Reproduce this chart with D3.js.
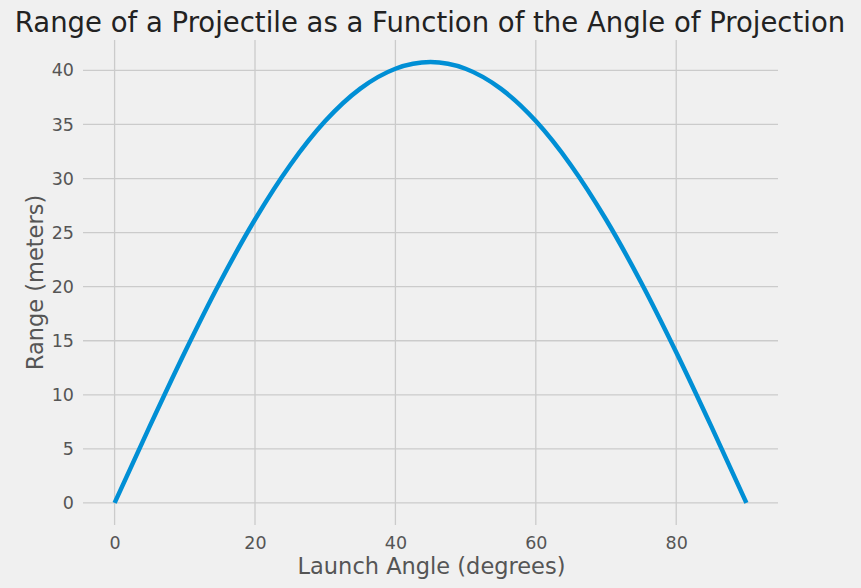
<!DOCTYPE html>
<html>
<head>
<meta charset="utf-8">
<script src="https://cdn.jsdelivr.net/npm/d3@7"></script>
<style>
  body { margin: 0; background: #f0f0f0; }
  text { font-family: "DejaVu Sans", sans-serif; }
</style>
</head>
<body>
<div id="chart"></div>
<script>
// values
const angles = [0, 5, 10, 15, 20, 25, 30, 35, 40, 45, 50, 55, 60, 65, 70, 75, 80, 85, 90];
const ranges = [0, 7.08, 13.94, 20.39, 26.21, 31.23, 35.31, 38.31, 40.15, 40.77, 40.15, 38.31, 35.31, 31.23, 26.21, 20.39, 13.94, 7.08, 0];
const xTicks = [0, 20, 40, 60, 80];
const yTicks = [0, 5, 10, 15, 20, 25, 30, 35, 40];

const width = 861, height = 588;
const margin = { top: 40, right: 83, bottom: 63, left: 83 };

const svg = d3.select('#chart')
    .append('svg')
    .attr('width', width)
    .attr('height', height)
    .style('background', '#f0f0f0');

const xScale = d3.scaleLinear()
    .domain([-4.5, 94.5])
    .range([margin.left, width - margin.right]);

const yScale = d3.scaleLinear()
    .domain([-2.04, 42.81])
    .range([height - margin.bottom, margin.top]);

// Grid
svg.append('g')
    .selectAll('line')
    .data(xTicks)
    .enter()
    .append('line')
    .attr('x1', d => xScale(d)).attr('x2', d => xScale(d))
    .attr('y1', margin.top).attr('y2', height - margin.bottom)
    .attr('stroke', '#cbcbcb').attr('stroke-width', 1.3);

svg.append('g')
    .selectAll('line')
    .data(yTicks)
    .enter()
    .append('line')
    .attr('x1', margin.left).attr('x2', width - margin.right)
    .attr('y1', d => yScale(d)).attr('y2', d => yScale(d))
    .attr('stroke', '#cbcbcb').attr('stroke-width', 1.3);

// Tick labels
const xAxis = svg.append('g')
    .attr('transform', `translate(0, ${height - margin.bottom})`)
    .call(d3.axisBottom(xScale).tickValues(xTicks).tickSize(0).tickPadding(12));
xAxis.select('.domain').remove();
xAxis.selectAll('text').style('font-size', '17.5px').attr('fill', '#555');

const yAxis = svg.append('g')
    .attr('transform', `translate(${margin.left}, 0)`)
    .call(d3.axisLeft(yScale).tickValues(yTicks).tickSize(0).tickPadding(9));
yAxis.select('.domain').remove();
yAxis.selectAll('text').style('font-size', '17.5px').attr('fill', '#555');

// Line
const line = d3.line()
    .x((d, i) => xScale(angles[i]))
    .y(d => yScale(d))
    .curve(d3.curveMonotoneX);

svg.append('path')
    .datum(ranges)
    .attr('d', line)
    .attr('fill', 'none')
    .attr('stroke', '#008fd5')
    .attr('stroke-width', 4.5);

// Titles
svg.append('text')
    .attr('x', 430)
    .attr('y', 32)
    .attr('text-anchor', 'middle')
    .style('font-size', '27.5px')
    .attr('fill', '#222')
    .text('Range of a Projectile as a Function of the Angle of Projection');

svg.append('text')
    .attr('x', (margin.left + width - margin.right) / 2 + 1)
    .attr('y', 574)
    .attr('text-anchor', 'middle')
    .style('font-size', '22.5px')
    .attr('fill', '#555')
    .text('Launch Angle (degrees)');

svg.append('text')
    .attr('transform', `translate(43, ${(margin.top + height - margin.bottom) / 2}) rotate(-90)`)
    .attr('text-anchor', 'middle')
    .style('font-size', '22.5px')
    .attr('fill', '#555')
    .text('Range (meters)');
</script>
</body>
</html>
